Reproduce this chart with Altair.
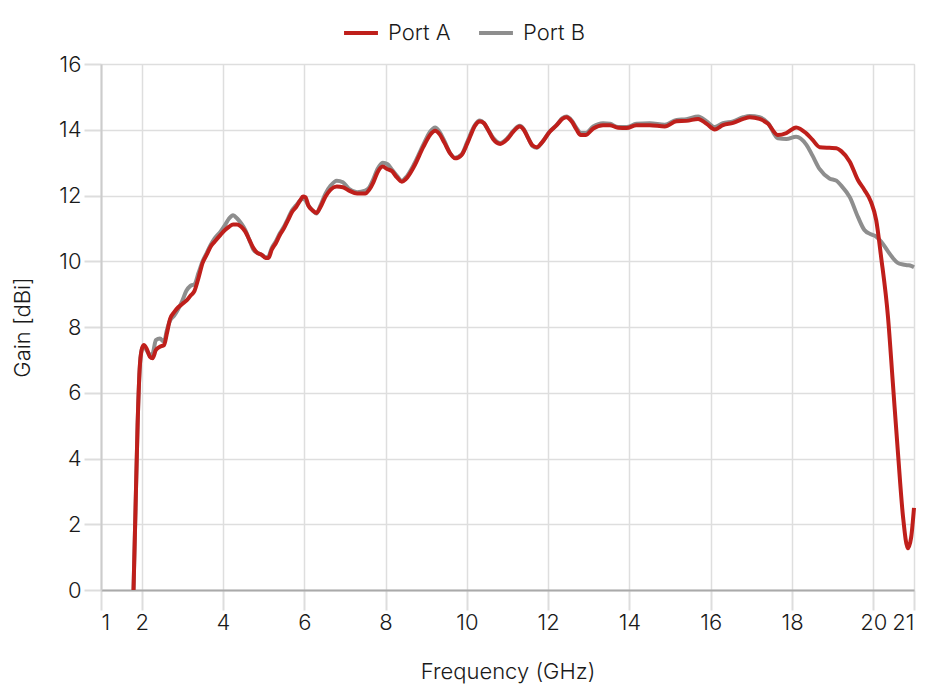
import altair as alt
import pandas as pd

freq = [1.80, 1.85, 1.90, 1.95, 2.00, 2.05, 2.12, 2.20, 2.27, 2.35, 2.45, 2.55, 2.62, 2.70, 2.80,
        2.90, 3.00, 3.10, 3.20, 3.30, 3.40, 3.50, 3.60, 3.70, 3.80, 3.94, 4.05, 4.15, 4.25, 4.35,
        4.45, 4.55, 4.65, 4.75, 4.85, 4.95, 5.05, 5.12, 5.20, 5.30, 5.40, 5.50, 5.60, 5.70, 5.80,
        5.90, 5.97, 6.03, 6.10, 6.20, 6.30, 6.40, 6.52, 6.65, 6.80, 6.95, 7.10, 7.30, 7.50, 7.60,
        7.70, 7.80, 7.93, 8.05, 8.15, 8.28, 8.40, 8.50, 8.70, 8.93, 9.10, 9.22, 9.32, 9.45, 9.58,
        9.71, 9.87, 10.00, 10.10, 10.20, 10.32, 10.42, 10.52, 10.65, 10.82, 11.00, 11.15, 11.30, 11.40, 11.51,
        11.62, 11.72, 11.84, 12.04, 12.21, 12.35, 12.45, 12.58, 12.70, 12.80, 12.92, 13.11, 13.35, 13.52, 13.72,
        13.93, 14.17, 14.50, 14.87, 15.16, 15.40, 15.69, 15.90, 16.10, 16.30, 16.55, 16.80, 16.96, 17.20, 17.41,
        17.65, 17.86, 18.10, 18.35, 18.50, 18.68, 18.92, 19.09, 19.21, 19.42, 19.62, 19.78, 19.94, 20.07, 20.19,
        20.36, 20.48, 20.60, 20.73, 20.85, 20.93, 21.00]

port_a = [0.0, 2.5, 5.0, 6.7, 7.3, 7.45, 7.35, 7.1, 7.05, 7.3, 7.4, 7.45, 7.8, 8.25, 8.45,
          8.6, 8.7, 8.8, 8.95, 9.1, 9.5, 9.95, 10.2, 10.45, 10.6, 10.8, 10.95, 11.05, 11.12, 11.12,
          11.05, 10.9, 10.65, 10.4, 10.25, 10.2, 10.1, 10.1, 10.35, 10.55, 10.8, 11.0, 11.25, 11.5, 11.65,
          11.85, 11.97, 11.95, 11.7, 11.55, 11.47, 11.65, 11.96, 12.18, 12.27, 12.25, 12.15, 12.06, 12.06, 12.18,
          12.4, 12.7, 12.88, 12.8, 12.75, 12.55, 12.42, 12.5, 12.88, 13.48, 13.85, 13.97, 13.88, 13.6, 13.3,
          13.13, 13.23, 13.55, 13.85, 14.12, 14.25, 14.2, 14.0, 13.71, 13.57, 13.72, 13.95, 14.1, 14.0, 13.74,
          13.52, 13.47, 13.6, 13.94, 14.14, 14.33, 14.38, 14.25, 14.0, 13.84, 13.84, 14.04, 14.14, 14.14, 14.06,
          14.05, 14.14, 14.14, 14.1, 14.26, 14.27, 14.33, 14.18, 14.01, 14.14, 14.21, 14.33, 14.38, 14.33, 14.18,
          13.84, 13.9, 14.07, 13.89, 13.7, 13.47, 13.45, 13.44, 13.35, 13.03, 12.47, 12.17, 11.81, 11.25, 10.14,
          8.31, 6.29, 4.26, 2.23, 1.27, 1.6, 2.5]

port_b = [0.0, 2.5, 5.0, 6.7, 7.3, 7.4, 7.3, 7.15, 7.2, 7.6, 7.65, 7.55, 7.9, 8.2, 8.35,
          8.55, 8.8, 9.1, 9.25, 9.3, 9.65, 10.0, 10.25, 10.5, 10.7, 10.9, 11.1, 11.3, 11.4, 11.3,
          11.15, 10.95, 10.65, 10.35, 10.25, 10.2, 10.12, 10.15, 10.4, 10.6, 10.85, 11.05, 11.3, 11.55, 11.7,
          11.85, 11.9, 11.85, 11.7, 11.55, 11.45, 11.7, 12.05, 12.3, 12.45, 12.4, 12.2, 12.1, 12.15, 12.25,
          12.5, 12.8, 13.0, 12.95, 12.8, 12.6, 12.45, 12.55, 12.95, 13.55, 13.95, 14.07, 13.95, 13.65, 13.3,
          13.15, 13.25, 13.6, 13.9, 14.15, 14.28, 14.2, 14.0, 13.75, 13.6, 13.75, 13.98, 14.12, 14.02, 13.75,
          13.5, 13.45, 13.6, 13.95, 14.15, 14.35, 14.4, 14.28, 14.05, 13.9, 13.9, 14.1, 14.2, 14.18, 14.08,
          14.08, 14.18, 14.2, 14.15, 14.3, 14.32, 14.4, 14.25, 14.08, 14.2, 14.25, 14.38, 14.42, 14.38, 14.2,
          13.74, 13.72, 13.79, 13.55, 13.22, 12.8, 12.52, 12.45, 12.3, 11.95, 11.35, 10.95, 10.82, 10.75, 10.6,
          10.3, 10.1, 9.95, 9.9, 9.88, 9.86, 9.82]

x_ticks = [1, 2, 4, 6, 8, 10, 12, 14, 16, 18, 20, 21]
y_ticks = [0, 2, 4, 6, 8, 10, 12, 14, 16]
series = ["Port A", "Port B"]
colors = ["#bf1f1b", "#8e8e8e"]

df = pd.DataFrame({
    "freq": freq + freq,
    "gain": port_a + port_b,
    "port": [series[0]] * len(freq) + [series[1]] * len(freq),
})

FONT = "Inter"
FS = 22
FW = 300
TXT = "#1a1a1a"

color = alt.Color(
    "port:N",
    scale=alt.Scale(domain=series, range=colors),
    legend=alt.Legend(
        title=None, orient="none", direction="horizontal",
        legendX=241, legendY=-50,
        symbolType="stroke", symbolSize=1150, symbolStrokeWidth=4,
        labelFontSize=FS, labelFont=FONT, labelColor=TXT, labelFontWeight=FW,
        columnPadding=20, labelOffset=8,
    ),
)

x = alt.X(
    "freq:Q",
    scale=alt.Scale(domain=[1, 21], nice=False, zero=False),
    axis=alt.Axis(
        values=x_ticks, title="Frequency (GHz)", format="d",
        tickSize=20, tickColor="#dddddd", tickWidth=2, labelPadding=2,
        domainColor="#aaaaaa", domainWidth=2,
        gridColor="#dedede", gridWidth=1.5,
        labelFontSize=FS, labelFont=FONT, labelColor=TXT, labelFontWeight=FW,
        titleFontSize=FS, titleFont=FONT, titleFontWeight=FW, titleColor=TXT,
        titleY=81, titleBaseline="middle",
    ),
)

y = alt.Y(
    "gain:Q",
    scale=alt.Scale(domain=[0, 16], nice=False),
    axis=alt.Axis(
        values=y_ticks, title="Gain [dBi]",
        tickSize=17, tickColor="#dddddd", tickWidth=2, labelPadding=3,
        domainColor="#cccccc", domainWidth=2,
        gridColor="#dedede", gridWidth=1.5,
        labelFontSize=FS, labelFont=FONT, labelColor=TXT, labelFontWeight=FW,
        titleFontSize=FS, titleFont=FONT, titleFontWeight=FW, titleColor=TXT,
        titleX=-79, titleY=263, titleAlign="center", titleBaseline="middle", titleAngle=270,
    ),
)

base = alt.Chart(df).mark_line(strokeWidth=4, interpolate="monotone", strokeJoin="round").encode(
    x=x, y=y, color=color
)

gray = base.transform_filter(alt.datum.port == "Port B")
red = base.transform_filter(alt.datum.port == "Port A")

chart = alt.layer(gray, red).properties(
    width=813, height=526,
    autosize=alt.AutoSizeParams(type="none"),
    padding={"left": 93, "top": 56, "right": 8, "bottom": 98},
).configure_view(stroke=None).configure(background="white")

chart.save("out.html", embed_options={"renderer": "svg", "actions": False})
